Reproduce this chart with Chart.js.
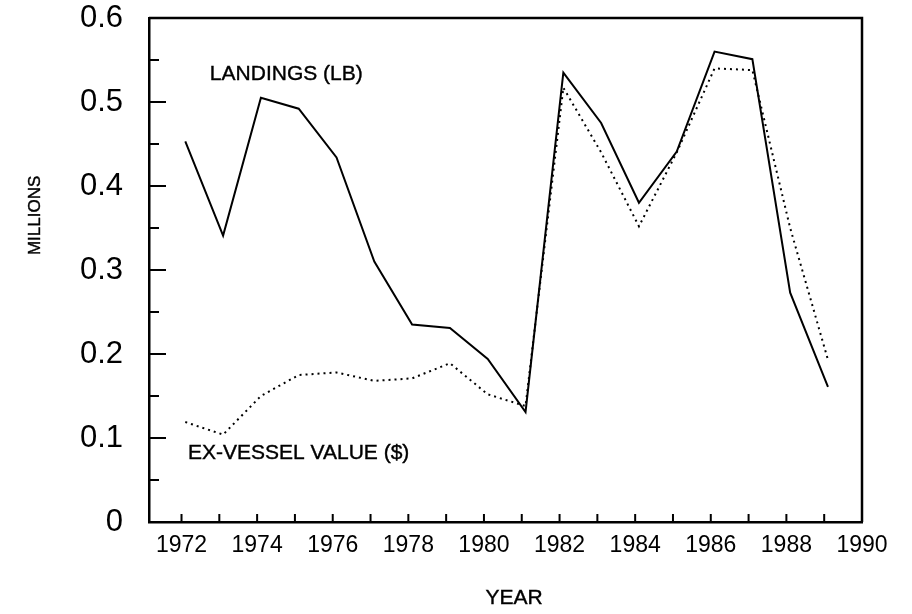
<!DOCTYPE html>
<html><head><meta charset="utf-8">
<script src="https://cdn.jsdelivr.net/npm/chart.js@4/dist/chart.umd.min.js"></script>
<style>html,body{margin:0;padding:0;background:#fff}#wrap{width:912px;height:614px}</style>
</head><body><div id="wrap"><canvas id="c" width="912" height="614"></canvas></div>
<script>
// ---- data ----
const years = [1972,1973,1974,1975,1976,1977,1978,1979,1980,1981,1982,1983,1984,1985,1986,1987,1988,1989];
const landings = [0.453,0.341,0.505,0.492,0.434,0.310,0.235,0.231,0.194,0.131,0.535,0.475,0.380,0.441,0.560,0.551,0.273,0.161];
const exVesselValue = [0.119,0.104,0.150,0.175,0.178,0.168,0.171,0.189,0.152,0.138,0.517,0.440,0.352,0.440,0.540,0.538,0.350,0.193];
const yTickLabels = ['0','0.1','0.2','0.3','0.4','0.5','0.6'];
const xTickLabels = ['1972','1974','1976','1978','1980','1982','1984','1986','1988','1990'];
const seriesNames = ['LANDINGS (LB)','EX-VESSEL VALUE ($)'];
const xTitle = 'YEAR';
const yTitle = 'MILLIONS';

const FONT = '"Liberation Sans", Arial, sans-serif';

const framePlugin = {
  id: 'frame',
  afterDraw(chart) {
    const ctx = chart.ctx, a = chart.chartArea;
    const xs = chart.scales.x2, ys = chart.scales.y;
    ctx.save();
    ctx.strokeStyle = '#000';
    ctx.lineWidth = 2.5;
    ctx.beginPath();
    ctx.moveTo(a.left, a.top); ctx.lineTo(a.right, a.top); ctx.lineTo(a.right, a.bottom);
    ctx.stroke();
    // inward tick marks on x axis (every year)
    ctx.lineWidth = 2;
    ctx.beginPath();
    for (let yr = Math.ceil(xs.min); yr < xs.max; yr++) {
      const px = xs.getPixelForValue(yr);
      ctx.moveTo(px, a.bottom); ctx.lineTo(px, a.bottom - 8);
    }
    // inward tick marks on y axis (every 0.05)
    for (let i = 1; i < 12; i++) {
      const v = i * 0.05;
      const py = ys.getPixelForValue(v);
      const len = (i % 2 === 0) ? 17 : 10;
      ctx.moveTo(a.left, py); ctx.lineTo(a.left + len, py);
    }
    ctx.stroke();
    // series labels placed in data space
    ctx.fillStyle = '#000';
    ctx.strokeStyle = '#000';
    ctx.lineWidth = 0.4;
    ctx.textBaseline = 'middle';
    ctx.textAlign = 'left';
    ctx.font = '21px ' + FONT;
    const t1 = [seriesNames[0], xs.getPixelForValue(1972.75), ys.getPixelForValue(0.533)];
    const t2 = [seriesNames[1], xs.getPixelForValue(1972.17), ys.getPixelForValue(0.082)];
    ctx.fillText(...t1); ctx.strokeText(...t1);
    ctx.fillText(...t2); ctx.strokeText(...t2);
    // axis titles
    ctx.textAlign = 'center';
    const t3 = [xTitle, a.left + (a.right - a.left) * 0.512, 598];
    ctx.fillText(...t3); ctx.strokeText(...t3);
    ctx.font = '17px ' + FONT;
    ctx.translate(35.5, ys.getPixelForValue(0.365));
    ctx.rotate(-Math.PI / 2);
    ctx.fillText(yTitle, 0, 0); ctx.strokeText(yTitle, 0, 0);
    ctx.restore();
  }
};

new Chart(document.getElementById('c'), {
  type: 'line',
  data: {
    datasets: [
      { label: seriesNames[0], data: years.map((y, i) => ({x: y, y: landings[i]})),
        borderColor: '#000', borderWidth: 2, pointRadius: 0, tension: 0, xAxisID: 'x', yAxisID: 'y' },
      { label: seriesNames[1], data: years.map((y, i) => ({x: y, y: exVesselValue[i]})),
        borderColor: '#000', borderWidth: 2, borderDash: [2, 4], borderCapStyle: 'butt',
        pointRadius: 0, tension: 0, xAxisID: 'x', yAxisID: 'y' }
    ]
  },
  options: {
    responsive: false, animation: false, devicePixelRatio: 1,
    layout: { padding: { top: 18, right: 50, bottom: 0, left: 0 } },
    plugins: { legend: { display: false }, tooltip: { enabled: false } },
    scales: {
      x: { type: 'linear', display: false, min: 1971.04, max: 1989.9 },
      x2: {
        type: 'linear', position: 'bottom', min: 1971.14, max: 1990,
        afterBuildTicks: s => { s.ticks = xTickLabels.map(v => ({ value: +v })); },
        afterFit: s => { s.height = 92; s.paddingLeft = 0; s.paddingRight = 0; },
        ticks: { autoSkip: false, maxRotation: 0, padding: 10, color: '#000',
          font: { family: FONT, size: 23 },
          callback: v => xTickLabels.find(l => +l === v) || '' },
        grid: { display: false, drawTicks: false },
        border: { display: true, color: '#000', width: 2.5 }
      },
      y: {
        type: 'linear', position: 'left', min: 0, max: 0.6,
        afterBuildTicks: s => { s.ticks = yTickLabels.map(v => ({ value: +v })); },
        afterFit: s => { s.width = 149; s.paddingTop = 0; s.paddingBottom = 0; },
        ticks: { padding: 26, color: '#000', font: { family: FONT, size: 31 },
          callback: v => yTickLabels.find(l => Math.abs(+l - v) < 1e-9) || '' },
        grid: { display: false, drawTicks: false },
        border: { display: true, color: '#000', width: 2.5 }
      }
    }
  },
  plugins: [framePlugin]
});
</script>
</body></html>
